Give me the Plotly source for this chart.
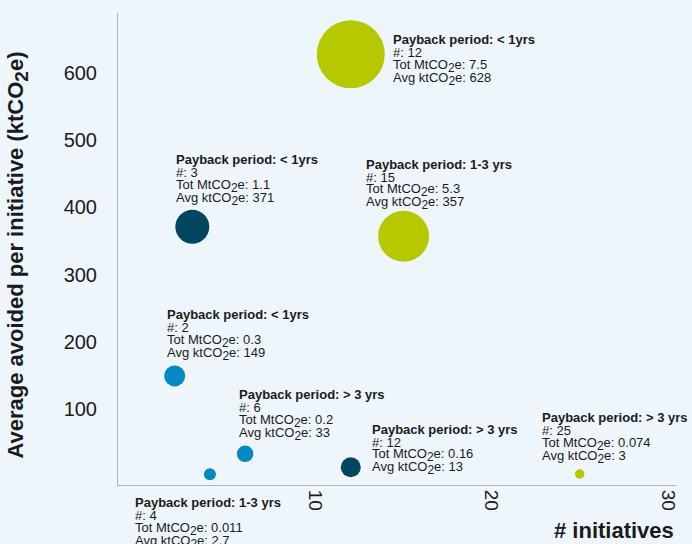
import plotly.graph_objects as go

# Initiatives grouped by payback period
payback = ["< 1yrs", "1-3 yrs", "< 1yrs", "< 1yrs", "> 3 yrs", "> 3 yrs", "> 3 yrs", "1-3 yrs"]
n_initiatives = [12, 15, 3, 2, 6, 12, 25, 4]
tot_mtco2e = [7.5, 5.3, 1.1, 0.3, 0.2, 0.16, 0.074, 0.011]
avg_ktco2e = [628, 357, 371, 149, 33, 13, 3, 2.7]

x_ticks = [10, 20, 30]
y_ticks = [100, 200, 300, 400, 500, 600]

# Styling per bubble
LIME, NAVY, BLUE = "#B5C800", "#02475F", "#0688C4"
colors = [LIME, LIME, NAVY, BLUE, BLUE, NAVY, LIME, BLUE]
diameters = [68, 51, 34, 21, 16.5, 20, 9.5, 12]
# pixel offset of each label's first line from its bubble centre
label_dx = [40, -40, -18, -10, -8, 19, -40, -77]
label_dy = [-14.5, -72, -67, -61, -59, -38, -56, 28.5]
LINE_H = 13

FONT = "Liberation Sans, Arial, Helvetica, sans-serif"
INK = "#1b1b1b"
BG = "#EEF6FC"


def co2(size):
    # CO2 with a lowered, near full-size "2"
    return f"CO<sub><span style='font-size:{size}px'>2</span></sub>"


fig = go.Figure(
    go.Scatter(
        x=n_initiatives,
        y=avg_ktco2e,
        mode="markers",
        marker=dict(size=diameters, color=colors, opacity=1, line=dict(width=0)),
        hoverinfo="skip",
        showlegend=False,
    )
)

annotations = []
for i in range(len(n_initiatives)):
    lines = [
        f"<b>Payback period: {payback[i].replace('<', '&lt;').replace('>', '&gt;')}</b>",
        f"#: {n_initiatives[i]}",
        f"Tot Mt{co2(12)}e: {tot_mtco2e[i]:g}",
        f"Avg kt{co2(12)}e: {avg_ktco2e[i]:g}",
    ]
    for k, txt in enumerate(lines):
        annotations.append(dict(
            x=n_initiatives[i], y=avg_ktco2e[i], xref="x", yref="y",
            text=txt, showarrow=False, xanchor="left", yanchor="middle",
            xshift=label_dx[i], yshift=-(label_dy[i] + k * LINE_H),
            font=dict(family=FONT, size=13, color=INK),
        ))

# axis titles
annotations.append(dict(
    x=-0.1793, y=0.488, xref="paper", yref="paper",
    text=f"<b>Average avoided per initiative (kt{co2(19)}e)</b>",
    textangle=-90, showarrow=False, xanchor="center", yanchor="middle",
    font=dict(family=FONT, size=22, color=INK),
))
annotations.append(dict(
    x=1.0, y=-0.097, xref="paper", yref="paper",
    text="<b># initiatives</b>", showarrow=False,
    xanchor="right", yanchor="middle",
    font=dict(family=FONT, size=22, color=INK),
))

fig.update_layout(
    width=692, height=544,
    margin=dict(l=118, r=16, t=13, b=59),
    paper_bgcolor=BG, plot_bgcolor=BG,
    font=dict(family=FONT, color=INK),
    annotations=annotations,
    xaxis=dict(
        range=[-1.22, 30.47], tickvals=x_ticks, tickangle=90,
        tickfont=dict(size=19, color=INK), showgrid=False, zeroline=False,
        showline=True, linecolor="#B4B4B4", linewidth=1, ticks="",
    ),
    yaxis=dict(
        range=[-13.4, 689.4], tickvals=y_ticks,
        tickfont=dict(size=20, color=INK), showgrid=False, zeroline=False,
        showline=True, linecolor="#B4B4B4", linewidth=1, ticks="",
        ticklabelstandoff=16,
    ),
)

fig.write_html("out.html")
